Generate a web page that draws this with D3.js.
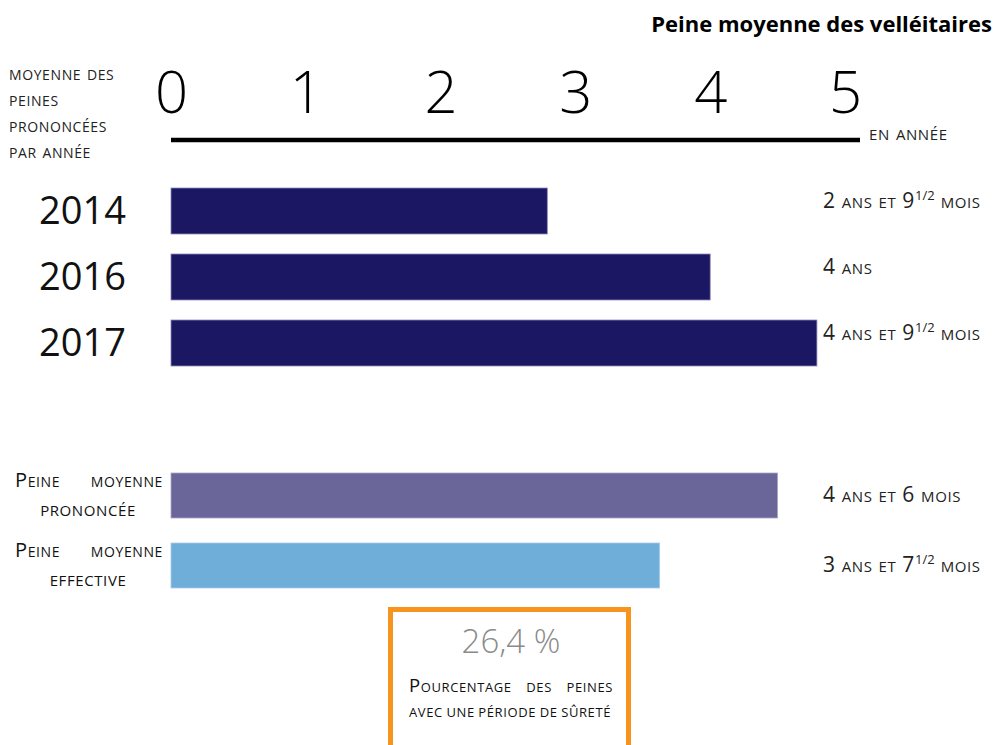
<!DOCTYPE html>
<html lang="fr">
<head>
<meta charset="utf-8">
<script src="https://cdn.jsdelivr.net/npm/d3@7"></script>
<style>
  html, body { margin: 0; padding: 0; background: #fff; }
  svg { display: block; font-family: "Open Sans", "Noto Sans", sans-serif; }
  .sc { font-variant: small-caps; letter-spacing: 0.6px; }
</style>
</head>
<body>
<svg id="chart" width="996" height="745"></svg>
<script>
// Average sentence, in years, by year of judgement
const years = ["2014", "2016", "2017"];
const yearValues = [2 + 9.5 / 12, 4, 4 + 9.5 / 12];
// Each label: [whole part, superscript fraction, trailing text]
const yearValueLabels = [
  ["2 ans et 9", "1/2", " mois"],
  ["4 ans", "", ""],
  ["4 ans et 9", "1/2", " mois"]
];

// Pronounced vs. effective average sentence
const summaryLines = [["Peine moyenne", "prononcée"], ["Peine moyenne", "effective"]];
const summaryValues = [4.5, 3 + 7.5 / 12];
const summaryValueLabels = [
  ["4 ans et 6 mois", "", ""],
  ["3 ans et 7", "1/2", " mois"]
];

const axisTicks = [0, 1, 2, 3, 4, 5];
const safetyShare = 26.4;

const colors = {
  years: "#1c1762",
  pronounced: "#6a6699",
  effective: "#6faed9",
  box: "#f7941d"
};

const svg = d3.select("#chart");

const x = d3.scaleLinear().domain([0, 5]).range([171, 845]);
const yYears = d3.scaleBand().domain(years).range([188, 366]).paddingInner(20 / 66);
const summaryKeys = summaryLines.map((d, i) => i);
const ySummary = d3.scaleBand().domain(summaryKeys).range([473, 588]).paddingInner(25 / 70);

// spread the words of a text line over a given width
function justify(sel, width) {
  sel.each(function () {
    const len = this.getComputedTextLength();
    const gaps = (this.textContent.match(/ /g) || []).length;
    if (gaps > 0) d3.select(this).attr("word-spacing", (width - len) / gaps);
  });
}

// Title
svg.append("text")
  .attr("x", 992).attr("y", 32)
  .attr("text-anchor", "end")
  .attr("font-size", 22).attr("font-weight", 700)
  .attr("fill", "#000")
  .text("Peine moyenne des velléitaires");

// Top axis: large light tick numbers and a thick rule
const axisG = svg.append("g").attr("transform", "translate(0,140)");
axisG.call(d3.axisTop(x).tickValues(axisTicks).tickSize(0).tickPadding(27).tickFormat(d3.format("d")));
axisG.select(".domain").remove();
axisG.selectAll(".tick text")
  .attr("font-size", 58).attr("font-weight", 300)
  .attr("font-family", "'Open Sans', 'Noto Sans', sans-serif")
  .attr("fill", "#000");
axisG.append("line")
  .attr("x1", x(0)).attr("x2", x.range()[1] + 15)
  .attr("y1", 0).attr("y2", 0)
  .attr("stroke", "#000").attr("stroke-width", 4.5);

svg.append("text")
  .attr("class", "sc")
  .attr("x", 869).attr("y", 140)
  .attr("font-size", 21).attr("fill", "#222")
  .text("en année");

// Left caption of the axis
const caption = ["moyenne des", "peines", "prononcées", "par année"];
svg.append("g").selectAll("text").data(caption).join("text")
  .attr("class", "sc")
  .attr("x", 9).attr("y", (d, i) => 80 + i * 26)
  .attr("font-size", 20).attr("fill", "#222")
  .text(d => d);

// helper for labels with a superscript fraction
function valueLabel(sel) {
  sel.each(function (d) {
    const t = d3.select(this);
    t.append("tspan").text(d[0]);
    if (d[1]) {
      t.append("tspan").attr("font-size", 13).attr("dy", -8).attr("font-variant", "normal")
        .attr("letter-spacing", 0).text(d[1]);
      t.append("tspan").attr("dy", 8).text(d[2]);
    }
  });
}

// Yearly bars
svg.append("g").selectAll("rect").data(years).join("rect")
  .attr("x", x(0))
  .attr("y", d => yYears(d))
  .attr("width", (d, i) => x(yearValues[i]) - x(0))
  .attr("height", yYears.bandwidth())
  .attr("fill", colors.years)
  .attr("stroke", "#8e8ab8").attr("stroke-width", 0.8);

svg.append("g").selectAll("text").data(years).join("text")
  .attr("x", 126)
  .attr("y", d => yYears(d) + yYears.bandwidth() / 2 + 13)
  .attr("text-anchor", "end")
  .attr("font-size", 38).attr("fill", "#111")
  .text(d => d);

svg.append("g").selectAll("text").data(yearValueLabels).join("text")
  .attr("class", "sc")
  .attr("x", 823)
  .attr("y", (d, i) => yYears(years[i]) + yYears.bandwidth() / 2 - 3)
  .attr("font-size", 21).attr("fill", "#222")
  .call(valueLabel);

// Pronounced / effective bars
const summaryColors = [colors.pronounced, colors.effective];
const summaryStrokes = ["#a9a6cc", "#a8cdec"];
svg.append("g").selectAll("rect").data(summaryKeys).join("rect")
  .attr("x", x(0))
  .attr("y", d => ySummary(d))
  .attr("width", d => x(summaryValues[d]) - x(0))
  .attr("height", ySummary.bandwidth())
  .attr("fill", d => summaryColors[d])
  .attr("stroke", d => summaryStrokes[d]).attr("stroke-width", 0.8);

const sumLabels = svg.append("g").selectAll("g").data(summaryKeys).join("g");
sumLabels.append("text")
  .attr("class", "sc")
  .attr("x", 15)
  .attr("y", d => ySummary(d) + 14)
  .attr("font-size", 20).attr("fill", "#111")
  .text(d => summaryLines[d][0])
  .call(justify, 148);
sumLabels.append("text")
  .attr("class", "sc")
  .attr("x", 88)
  .attr("y", d => ySummary(d) + 43)
  .attr("text-anchor", "middle")
  .attr("font-size", 21).attr("fill", "#111")
  .text(d => summaryLines[d][1]);

svg.append("g").selectAll("text").data(summaryValueLabels).join("text")
  .attr("class", "sc")
  .attr("x", 823)
  .attr("y", (d, i) => ySummary(i) + ySummary.bandwidth() / 2 + 6)
  .attr("font-size", 21).attr("fill", "#222")
  .call(valueLabel);

// Share of sentences with a safety period
const box = svg.append("g");
box.append("rect")
  .attr("x", 390.5).attr("y", 609.5)
  .attr("width", 238).attr("height", 160)
  .attr("fill", "#fff")
  .attr("stroke", colors.box).attr("stroke-width", 5);
box.append("text")
  .attr("x", 511).attr("y", 653)
  .attr("text-anchor", "middle")
  .attr("font-size", 33).attr("font-weight", 300).attr("fill", "#8a8a8a")
  .text(d3.format(".1f")(safetyShare).replace(".", ",") + " %");
box.append("text")
  .attr("class", "sc")
  .attr("x", 409).attr("y", 692)
  .attr("font-size", 18.5).attr("fill", "#111")
  .text("Pourcentage des peines")
  .call(justify, 204);
box.append("text")
  .attr("class", "sc")
  .attr("x", 409).attr("y", 717)
  .attr("font-size", 18.5).attr("fill", "#111")
  .text("avec une période de sûreté")
  .call(justify, 202);
</script>
</body>
</html>
